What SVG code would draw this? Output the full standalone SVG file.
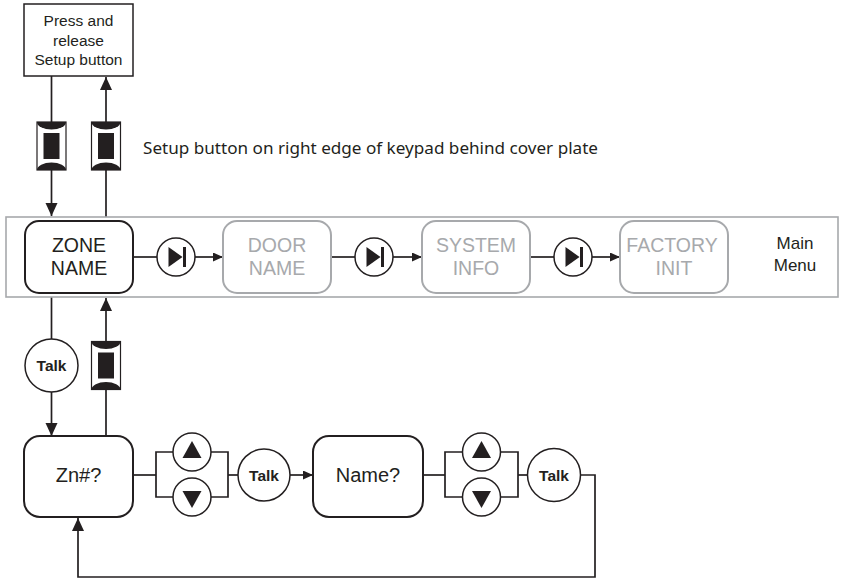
<svg xmlns="http://www.w3.org/2000/svg" xmlns:xlink="http://www.w3.org/1999/xlink" width="847" height="585" viewBox="0 0 847 585">
<style>
.ln{fill:none;stroke:#231f20;stroke-width:1.7}
.box{fill:#fff;stroke:#231f20;stroke-width:2}
.gbox{fill:#fff;stroke:#a7a9ac;stroke-width:2}
.frame{fill:none;stroke:#a7a9ac;stroke-width:1.6}
.circ{fill:#fff;stroke:#231f20;stroke-width:1.5}
.t{font-family:"Liberation Sans",Arial,sans-serif;fill:#231f20;text-anchor:middle}
.lbl{font-size:19.5px}
.gl{font-size:19.5px;fill:#a7a9ac}
.talk{font-family:"Liberation Sans",Arial,sans-serif;font-weight:bold;font-size:15.5px;fill:#231f20;text-anchor:middle}
.blk{fill:#231f20}
</style>
<defs>
<marker id="ah" markerUnits="userSpaceOnUse" markerWidth="14" markerHeight="13" refX="13" refY="6" orient="auto"><path d="M0,0 L13,6 L0,12 Z" fill="#231f20"/></marker>
<marker id="as" markerUnits="userSpaceOnUse" markerWidth="11" markerHeight="10" refX="10" refY="4.5" orient="auto"><path d="M0,0 L10,4.5 L0,9 Z" fill="#231f20"/></marker>
<g id="sw">
<rect x="-14.5" y="-24" width="29" height="48" fill="#fff" stroke="#231f20" stroke-width="1.2"/>
<path d="M-14.5,-24 A14.5,7.5 0 0 0 14.5,-24 Z" fill="#231f20"/>
<path d="M-14.5,24 A14.5,7.5 0 0 1 14.5,24 Z" fill="#231f20"/>
<rect x="-8" y="-13" width="16" height="26" fill="#231f20"/>
</g>
<g id="diode">
<circle r="19" class="circ"/>
<path d="M-7.5,-10 L6.5,0 L-7.5,10 Z" class="blk"/>
<rect x="7" y="-10" width="3" height="20" class="blk"/>
</g>
<g id="up"><circle r="19" class="circ"/><path d="M0,-11 L-9.5,6 L9.5,6 Z" class="blk"/></g>
<g id="down"><circle r="19" class="circ"/><path d="M0,11 L-9.5,-6 L9.5,-6 Z" class="blk"/></g>
</defs>

<g id="connectors">
<line class="ln" x1="51.5" y1="76" x2="51.5" y2="122"/>
<line class="ln" x1="51.5" y1="170" x2="51.5" y2="216" marker-end="url(#ah)"/>
<line class="ln" x1="106" y1="217" x2="106" y2="170"/>
<line class="ln" x1="106" y1="122" x2="106" y2="77" marker-end="url(#ah)"/>
<line class="ln" x1="133" y1="257" x2="157" y2="257"/>
<line class="ln" x1="195" y1="257" x2="223" y2="257" marker-end="url(#as)"/>
<line class="ln" x1="331" y1="257" x2="355" y2="257"/>
<line class="ln" x1="393" y1="257" x2="422" y2="257" marker-end="url(#as)"/>
<line class="ln" x1="530" y1="257" x2="554" y2="257"/>
<line class="ln" x1="592" y1="257" x2="620" y2="257" marker-end="url(#as)"/>
<line class="ln" x1="51.5" y1="297" x2="51.5" y2="339"/>
<line class="ln" x1="51.5" y1="392" x2="51.5" y2="436" marker-end="url(#ah)"/>
<line class="ln" x1="106" y1="436" x2="106" y2="389.5"/>
<line class="ln" x1="106" y1="341.5" x2="106" y2="298" marker-end="url(#ah)"/>
<line class="ln" x1="133" y1="475" x2="156" y2="475"/>
<path class="ln" d="M173,452 H156 V497 H173 M211,452 H228 V497 H211"/>
<line class="ln" x1="228" y1="475" x2="238" y2="475"/>
<line class="ln" x1="290" y1="475" x2="313" y2="475" marker-end="url(#as)"/>
<line class="ln" x1="423" y1="475" x2="445" y2="475"/>
<path class="ln" d="M462.5,452 H445 V497 H462.5 M500.5,452 H518 V497 H500.5"/>
<line class="ln" x1="518" y1="475" x2="527.5" y2="475"/>
<path class="ln" d="M580.5,475 H595 V577 H78 V518" marker-end="url(#ah)"/>
</g>

<g id="setup-box">
<rect x="24" y="4" width="109" height="72" fill="#fff" stroke="#231f20" stroke-width="1.5"/>
<text class="t" font-size="15.5" x="78.5" y="26">Press and</text>
<text class="t" font-size="15.5" x="78.5" y="45.5">release</text>
<text class="t" font-size="15.5" x="78.5" y="65">Setup button</text>
</g>
<g id="switch-down"><use xlink:href="#sw" href="#sw" transform="translate(51.5,146)"/></g>
<g id="switch-up"><use xlink:href="#sw" href="#sw" transform="translate(106,146)"/></g>
<g id="note">
<text x="143" y="154" font-family="'Noto Sans','Open Sans',sans-serif" font-size="16.5" fill="#231f20" textLength="455" lengthAdjust="spacingAndGlyphs">Setup button on right edge of keypad behind cover plate</text>
</g>

<g id="main-menu">
<rect class="frame" x="6" y="217" width="832" height="80"/>
<text class="t" font-size="17" x="795" y="249">Main</text>
<text class="t" font-size="17" x="795" y="271">Menu</text>
</g>
<g id="zone-name">
<rect class="box" x="25" y="221" width="108" height="72" rx="14"/>
<text class="t lbl" x="79" y="252">ZONE</text>
<text class="t lbl" x="79" y="275">NAME</text>
</g>
<g id="next1"><use xlink:href="#diode" href="#diode" transform="translate(176,257)"/></g>
<g id="door-name">
<rect class="gbox" x="223" y="221" width="108" height="72" rx="14"/>
<text class="t gl" x="277" y="252">DOOR</text>
<text class="t gl" x="277" y="275">NAME</text>
</g>
<g id="next2"><use xlink:href="#diode" href="#diode" transform="translate(374,257)"/></g>
<g id="system-info">
<rect class="gbox" x="422" y="221" width="108" height="72" rx="14"/>
<text class="t gl" x="476" y="252">SYSTEM</text>
<text class="t gl" x="476" y="275">INFO</text>
</g>
<g id="next3"><use xlink:href="#diode" href="#diode" transform="translate(573,257)"/></g>
<g id="factory-init">
<rect class="gbox" x="620" y="221" width="108" height="72" rx="14"/>
<text class="t gl" x="672" y="252">FACTORY</text>
<text class="t gl" x="674" y="275">INIT</text>
</g>

<g id="talk1">
<circle class="circ" cx="51.5" cy="365.5" r="26.5"/>
<text class="talk" x="51.5" y="371">Talk</text>
</g>
<g id="switch-up2"><use xlink:href="#sw" href="#sw" transform="translate(106,365.5)"/></g>

<g id="zn">
<rect class="box" x="24" y="436" width="109" height="81" rx="16"/>
<text class="t" font-size="20" x="78.5" y="482">Zn#?</text>
</g>
<g id="updown1">
<use xlink:href="#up" href="#up" transform="translate(192,452)"/>
<use xlink:href="#down" href="#down" transform="translate(192,497)"/>
</g>
<g id="talk2">
<circle class="circ" cx="264" cy="475" r="26"/>
<text class="talk" x="264" y="480.5">Talk</text>
</g>
<g id="name">
<rect class="box" x="313" y="436" width="110" height="81" rx="16"/>
<text class="t" font-size="20" x="368" y="482">Name?</text>
</g>
<g id="updown2">
<use xlink:href="#up" href="#up" transform="translate(481.5,452)"/>
<use xlink:href="#down" href="#down" transform="translate(481.5,497)"/>
</g>
<g id="talk3">
<circle class="circ" cx="554" cy="475" r="26.5"/>
<text class="talk" x="554" y="480.5">Talk</text>
</g>
</svg>
